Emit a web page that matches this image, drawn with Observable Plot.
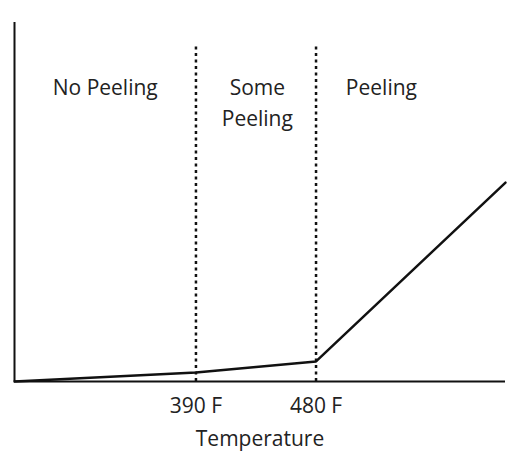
<!DOCTYPE html>
<html>
<head>
<meta charset="utf-8">
<script src="https://cdn.jsdelivr.net/npm/d3@7"></script>
<script src="https://cdn.jsdelivr.net/npm/@observablehq/plot@0.6"></script>
<style>
  html, body { margin: 0; padding: 0; background: #fff; }
  #chart svg { display: block; }
</style>
</head>
<body>
<div id="chart"></div>
<script>
// Temperature (F) vs. amount of peeling (arbitrary units)
const curveTemp = [254, 390, 480, 622];
const curvePeel = [0, 2.5, 5.6, 55.4];
const thresholds = [390, 480];
const tickLabels = ["390 F", "480 F"];
const zoneNames = ["No Peeling", "Some\nPeeling", "Peeling"];
const zoneTemp = [322, 436, 529];

const curve = curveTemp.map((t, i) => ({t, p: curvePeel[i]}));
const zones = zoneNames.map((name, i) => ({name, t: zoneTemp[i]}));

const font = "'Open Sans', sans-serif";

const chart = Plot.plot({
  width: 511,
  height: 459,
  marginLeft: 14,
  marginRight: 6,
  marginTop: 22,
  marginBottom: 78,
  style: {fontFamily: font, background: "#fff", color: "#111"},
  x: {domain: [254, 622]},
  y: {domain: [0, 100], axis: null},
  marks: [
    Plot.ruleX(thresholds, {y1: 0, y2: 93.3, stroke: "#111", strokeWidth: 2.5, strokeDasharray: "3,3.5"}),
    Plot.ruleY([0], {stroke: "#111", strokeWidth: 2}),
    Plot.ruleX([254], {y1: 0, y2: 100, stroke: "#111", strokeWidth: 2}),
    Plot.line(curve, {x: "t", y: "p", stroke: "#111", strokeWidth: 2.5}),
    Plot.text(zones, {x: "t", y: 85.8, text: "name", fontSize: 21, lineHeight: 1.45, lineAnchor: "top", fill: "#222"}),
    Plot.axisX(thresholds, {tickSize: 0, tickPadding: 17, tickFormat: (d) => tickLabels[thresholds.indexOf(d)], fontSize: 21, label: null, fill: "#222"}),
    Plot.text(["Temperature"], {frameAnchor: "bottom", dy: 64, fontSize: 21, fill: "#222"})
  ]
});
document.getElementById("chart").append(chart);
</script>
</body>
</html>
